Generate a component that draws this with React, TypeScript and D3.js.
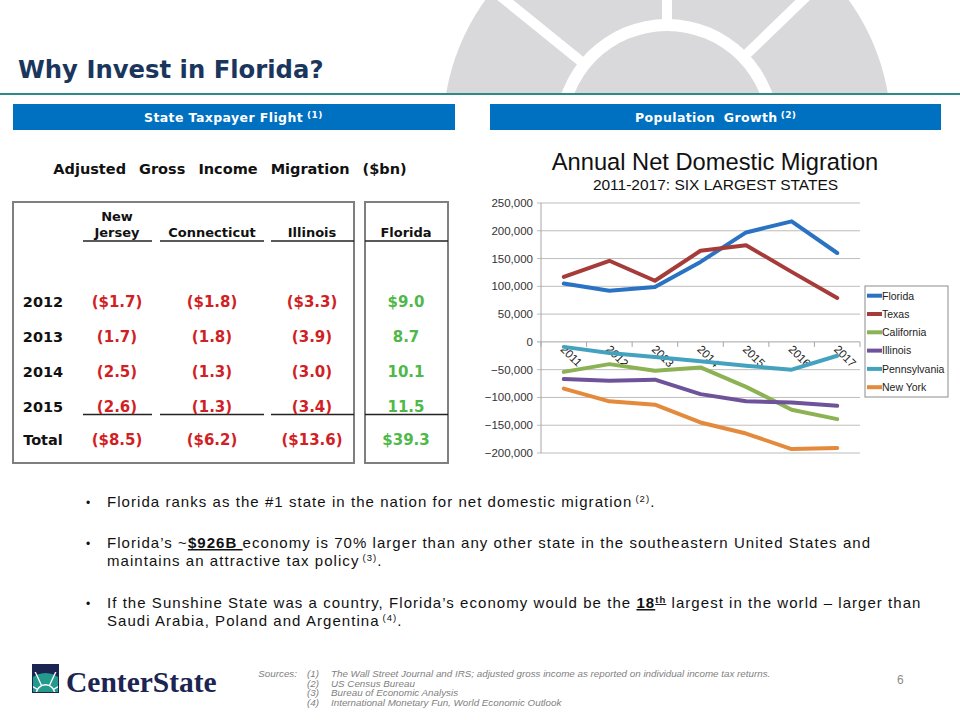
import React from 'react';
import * as d3 from 'd3';

// ---------- Data ----------
const years = ['2011', '2012', '2013', '2014', '2015', '2016', '2017'];
const florida = [105000, 92000, 99000, 144000, 197000, 217000, 160000];
const texas = [117000, 146000, 110000, 164000, 174000, 126000, 79000];
const california = [-54000, -40000, -52000, -46000, -81000, -122000, -139000];
const illinois = [-67000, -70000, -68000, -94000, -107000, -109000, -115000];
const pennsylvania = [-9000, -20000, -27000, -35000, -43000, -50000, -25000];
const newYork = [-84000, -107000, -113000, -145000, -165000, -193000, -191000];
const seriesNames = ['Florida', 'Texas', 'California', 'Illinois', 'Pennsylvania', 'New York'];
const seriesColors = ['#2a72c2', '#a63c3a', '#8db254', '#6f539a', '#43a3bf', '#e48a3c'];
const yTicks = [250000, 200000, 150000, 100000, 50000, 0, -50000, -100000, -150000, -200000];

const tableRows = ['2012', '2013', '2014', '2015', 'Total'];
const tableCols = ['Jersey', 'Connecticut', 'Illinois', 'Florida'];
const newJerseyAgi = [-1.7, -1.7, -2.5, -2.6, -8.5];
const connecticutAgi = [-1.8, -1.8, -1.3, -1.3, -6.2];
const illinoisAgi = [-3.3, -3.9, -3.0, -3.4, -13.6];
const floridaAgi = [9.0, 8.7, 10.1, 11.5, 39.3];

const sources = [
  'The Wall Street Journal and IRS; adjusted gross income as reported on individual income tax returns.',
  'US Census Bureau',
  'Bureau of Economic Analysis',
  'International Monetary Fun, World Economic Outlook',
];

const VERD = 'DejaVu Sans, Verdana, sans-serif';
const ARIAL = 'Liberation Sans, Arial, sans-serif';

function fmtAgi(v: number, i: number) {
  const dollar = i === 0 || i === 4 ? '$' : '';
  const s = dollar + Math.abs(v).toFixed(1);
  return v < 0 ? `(${s})` : s;
}

export default function App() {
  const series = [florida, texas, california, illinois, pennsylvania, newYork];
  const x = d3.scaleBand<string>().domain(years).range([541, 860]).padding(0);
  const xc = (yr: string) => (x(yr) as number) + x.bandwidth() / 2;
  const y = d3.scaleLinear().domain([-200000, 250000]).range([453, 203]);
  const line = d3
    .line<number>()
    .x((_, i) => xc(years[i]))
    .y((d) => y(d));
  const fmt = d3.format(',');

  // background emblem
  const cx = 667, cy = 131;
  const spokeAngles = [-90, -141, -44];

  const colX = [117, 212, 312, 406];
  const rowY = [307, 342, 377, 412, 445];
  const agi = [newJerseyAgi, connecticutAgi, illinoisAgi, floridaAgi];

  return (
    <svg width={960} height={720} style={{ position: 'absolute', left: 0, top: 0, background: '#fff' }}>
      <defs>
        <clipPath id="topclip">
          <rect x={0} y={0} width={960} height={93} />
        </clipPath>
        <clipPath id="logoclip">
          <rect x={33} y={672} width={25} height={20} />
        </clipPath>
      </defs>
      <rect x={0} y={0} width={960} height={720} fill="#fff" />

      {/* emblem */}
      <g clipPath="url(#topclip)">
        <circle cx={cx} cy={cy} r={224} fill="#d9d9db" />
        {spokeAngles.map((a, i) => (
          <line
            key={i}
            x1={cx}
            y1={cy}
            x2={cx + 260 * Math.cos((a * Math.PI) / 180)}
            y2={cy + 260 * Math.sin((a * Math.PI) / 180)}
            stroke="#fff"
            strokeWidth={10}
          />
        ))}
        <circle cx={cx} cy={cy} r={112} fill="#fff" />
        <circle cx={cx} cy={cy} r={100} fill="#d9d9db" />
      </g>
      <line x1={0} x2={960} y1={94} y2={94} stroke="#2d8a86" strokeWidth={2} />

      {/* title */}
      <text x={18} y={78} fontFamily={VERD} fontWeight="bold" fontSize={24.3} fill="#1b365d">
        Why Invest in Florida?
      </text>

      {/* section headers */}
      <rect x={13} y={104} width={442} height={26} fill="#0070c0" />
      <text x={144} y={122} fontFamily={VERD} fontWeight="bold" fontSize={12.5} letterSpacing={0.4} fill="#fff">
        State Taxpayer Flight
        <tspan dx={4} dy={-4} fontSize={9}>(1)</tspan>
      </text>
      <rect x={490} y={104} width={451} height={26} fill="#0070c0" />
      <text x={635} y={122} fontFamily={VERD} fontWeight="bold" fontSize={12.5} letterSpacing={0.4} fill="#fff" wordSpacing={4}>
        Population Growth
        <tspan dx={3} dy={-4} fontSize={9}>(2)</tspan>
      </text>

      {/* table */}
      <text x={230} y={174} textAnchor="middle" fontFamily={VERD} fontWeight="bold" fontSize={14.5} fill="#111" wordSpacing={8}>
        Adjusted Gross Income Migration ($bn)
      </text>
      <rect x={13} y={202} width={341} height={261} fill="none" stroke="#7f7f7f" strokeWidth={2} />
      <rect x={365} y={202} width={83} height={261} fill="none" stroke="#7f7f7f" strokeWidth={2} />
      <text x={colX[0]} y={221} textAnchor="middle" fontFamily={VERD} fontWeight="bold" fontSize={13} fill="#111">
        New
      </text>
      {tableCols.map((c, i) => (
        <text key={c} x={colX[i]} y={237} textAnchor="middle" fontFamily={VERD} fontWeight="bold" fontSize={13} fill="#111">
          {c}
        </text>
      ))}
      {[[83, 152], [160, 264], [271, 354], [365, 448]].map(([a, b], i) => (
        <g key={i}>
          <line x1={a} x2={b} y1={241} y2={241} stroke="#222" strokeWidth={1.5} />
          <line x1={a} x2={b} y1={414.5} y2={414.5} stroke="#222" strokeWidth={1.5} />
        </g>
      ))}
      {tableRows.map((r, ri) => (
        <g key={r}>
          <text x={43} y={rowY[ri]} textAnchor="middle" fontFamily={VERD} fontWeight="bold" fontSize={14.5} fill="#111">
            {r}
          </text>
          {agi.map((col, ci) => (
            <text
              key={ci}
              x={colX[ci]}
              y={rowY[ri]}
              textAnchor="middle"
              fontFamily={VERD}
              fontWeight="bold"
              fontSize={15}
              fill={col[ri] < 0 ? '#d11f26' : '#4fb84a'}
            >
              {fmtAgi(col[ri], ri)}
            </text>
          ))}
        </g>
      ))}

      {/* chart */}
      <text x={715} y={170} textAnchor="middle" fontFamily={ARIAL} fontSize={23.7} fill="#111">
        Annual Net Domestic Migration
      </text>
      <text x={715.5} y={190} textAnchor="middle" fontFamily={ARIAL} fontSize={15.5} fill="#111">
        2011-2017: SIX LARGEST STATES
      </text>
      <g>
        {yTicks.map((t) => (
          <g key={t}>
            <line x1={537} x2={860} y1={y(t)} y2={y(t)} stroke={t === 0 ? '#a6a6a6' : '#bdbdbd'} strokeWidth={1} />
            <text x={533} y={y(t) + 4} textAnchor="end" fontFamily={ARIAL} fontSize={11.5} fill="#333">
              {fmt(t)}
            </text>
          </g>
        ))}
        <line x1={541} x2={541} y1={203} y2={453} stroke="#a6a6a6" strokeWidth={1} />
        {years.concat(['end']).map((yr, i) => {
          const xx = 541 + i * x.bandwidth();
          return <line key={yr} x1={xx} x2={xx} y1={y(0)} y2={y(0) + 5} stroke="#a6a6a6" strokeWidth={1} />;
        })}
        {years.map((yr) => (
          <text
            key={yr}
            transform={`translate(${xc(yr) - 4},${y(0) + 8}) rotate(45)`}
            fontFamily={ARIAL}
            fontSize={11.5}
            fill="#222"
          >
            {yr}
          </text>
        ))}
        {series.map((s, i) => (
          <path key={seriesNames[i]} d={line(s) as string} fill="none" stroke={seriesColors[i]} strokeWidth={4} strokeLinejoin="round" strokeLinecap="round" />
        ))}
      </g>
      {/* legend */}
      <rect x={865} y={286} width={83} height={111} fill="#fff" stroke="#8c8c8c" strokeWidth={1} />
      {seriesNames.map((n, i) => (
        <g key={n}>
          <line x1={867} x2={882} y1={295.7 + i * 18.3} y2={295.7 + i * 18.3} stroke={seriesColors[i]} strokeWidth={4} />
          <text x={882} y={299.5 + i * 18.3} fontFamily={ARIAL} fontSize={10.5} fill="#222">
            {n}
          </text>
        </g>
      ))}

      {/* bullets */}
      <g fontFamily={ARIAL} fontSize={15} fill="#111" letterSpacing={1.05}>
        {[507, 548, 608].map((by) => (
          <text key={by} x={86} y={by} fontSize={12} letterSpacing={0}>•</text>
        ))}
        <text x={107} y={507}>
          Florida ranks as the #1 state in the nation for net domestic migration
          <tspan dx={3} dy={-5} fontSize={9.5}>(2)</tspan>
          <tspan dy={5}>.</tspan>
        </text>
        <text x={107} y={548}>
          Florida’s ~
          <tspan fontWeight="bold" textDecoration="underline">$926B </tspan>
          economy is 70% larger than any other state in the southeastern United States and
        </text>
        <text x={107} y={566}>
          maintains an attractive tax policy
          <tspan dx={3} dy={-5} fontSize={9.5}>(3)</tspan>
          <tspan dy={5}>.</tspan>
        </text>
        <text x={107} y={608}>
          If the Sunshine State was a country, Florida’s economy would be the{' '}
          <tspan fontWeight="bold" textDecoration="underline">18</tspan>
          <tspan fontWeight="bold" textDecoration="underline" dy={-5} fontSize={9.5}>th</tspan>
          <tspan dy={5}> largest in the world – larger than</tspan>
        </text>
        <text x={107} y={626}>
          Saudi Arabia, Poland and Argentina
          <tspan dx={3} dy={-5} fontSize={9.5}>(4)</tspan>
          <tspan dy={5}>.</tspan>
        </text>
      </g>

      {/* footer */}
      <g fontFamily={ARIAL} fontStyle="italic" fontSize={9.8} fill="#7f7f7f">
        <text x={297} y={677} textAnchor="end">Sources:</text>
        {sources.map((s, i) => (
          <g key={i}>
            <text x={307} y={677 + i * 9.7}>({i + 1})</text>
            <text x={331} y={677 + i * 9.7}>{s}</text>
          </g>
        ))}
      </g>
      <text x={897} y={684} fontFamily={ARIAL} fontSize={12} fill="#8c8c8c">6</text>

      {/* logo */}
      <rect x={32} y={664} width={27} height={29} fill="#1c2452" />
      <g clipPath="url(#logoclip)">
        <circle cx={45.5} cy={694} r={21} fill="#24998d" />
        {[-150, -115, -65, -30].map((a) => (
          <line key={a} x1={45.5} y1={694} x2={45.5 + 25 * Math.cos((a * Math.PI) / 180)} y2={694 + 25 * Math.sin((a * Math.PI) / 180)} stroke="#fff" strokeWidth={1.3} />
        ))}
        <circle cx={45.5} cy={694} r={10} fill="#fff" />
        <circle cx={45.5} cy={694} r={8.5} fill="#24998d" />
      </g>
      <text x={66} y={692} fontFamily="Liberation Serif, Times New Roman, serif" fontWeight="bold" fontSize={29.5} fill="#1c2452">
        CenterState
      </text>
    </svg>
  );
}
